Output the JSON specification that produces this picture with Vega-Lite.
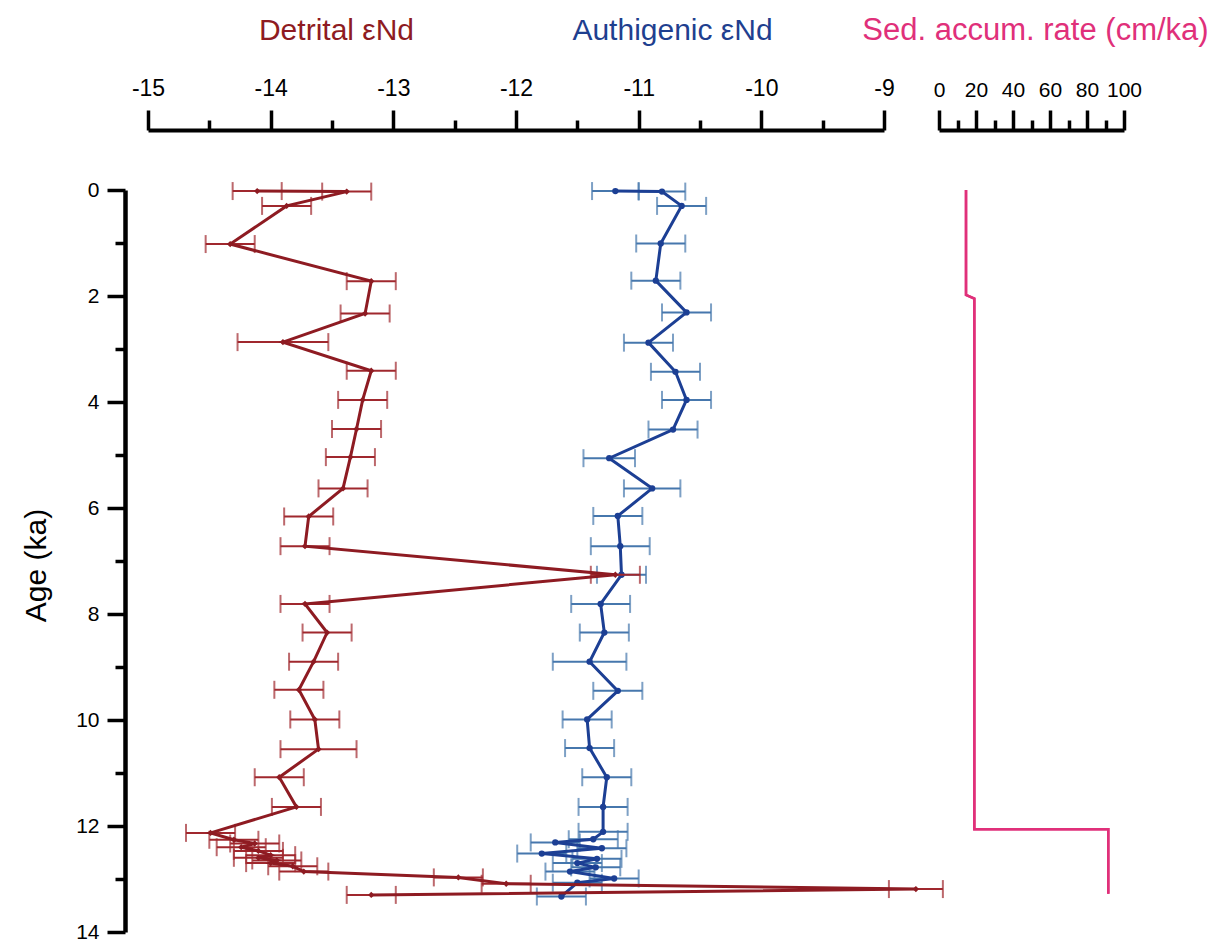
{
  "$schema": "https://vega.github.io/schema/vega-lite/v6.json",
  "width": 1000,
  "height": 742,
  "autosize": {"type": "none"},
  "padding": {"left": 125, "top": 190, "right": 99, "bottom": 13},
  "background": "white",
  "config": {"view": {"stroke": null}, "font": "Liberation Sans"},
  "datasets": {
    "det": [
      {"o":1,"age":0.02,"v":-14.11,"lo":-14.31,"hi":-13.91},
      {"o":2,"age":0.03,"v":-13.38,"lo":-13.58,"hi":-13.18},
      {"o":3,"age":0.30,"v":-13.87,"lo":-14.07,"hi":-13.67},
      {"o":4,"age":1.02,"v":-14.33,"lo":-14.53,"hi":-14.13},
      {"o":5,"age":1.72,"v":-13.18,"lo":-13.38,"hi":-12.98},
      {"o":6,"age":2.33,"v":-13.23,"lo":-13.43,"hi":-13.03},
      {"o":7,"age":2.87,"v":-13.90,"lo":-14.27,"hi":-13.53},
      {"o":8,"age":3.41,"v":-13.18,"lo":-13.38,"hi":-12.98},
      {"o":9,"age":3.96,"v":-13.25,"lo":-13.45,"hi":-13.05},
      {"o":10,"age":4.51,"v":-13.30,"lo":-13.50,"hi":-13.10},
      {"o":11,"age":5.04,"v":-13.35,"lo":-13.55,"hi":-13.15},
      {"o":12,"age":5.63,"v":-13.41,"lo":-13.61,"hi":-13.21},
      {"o":13,"age":6.16,"v":-13.69,"lo":-13.89,"hi":-13.49},
      {"o":14,"age":6.72,"v":-13.72,"lo":-13.92,"hi":-13.52},
      {"o":15,"age":7.26,"v":-11.19,"lo":-11.39,"hi":-10.99},
      {"o":16,"age":7.81,"v":-13.72,"lo":-13.92,"hi":-13.52},
      {"o":17,"age":8.35,"v":-13.54,"lo":-13.74,"hi":-13.34},
      {"o":18,"age":8.90,"v":-13.65,"lo":-13.85,"hi":-13.45},
      {"o":19,"age":9.43,"v":-13.77,"lo":-13.97,"hi":-13.57},
      {"o":20,"age":9.99,"v":-13.64,"lo":-13.84,"hi":-13.44},
      {"o":21,"age":10.55,"v":-13.61,"lo":-13.92,"hi":-13.30},
      {"o":22,"age":11.08,"v":-13.93,"lo":-14.13,"hi":-13.73},
      {"o":23,"age":11.64,"v":-13.79,"lo":-13.99,"hi":-13.59},
      {"o":24,"age":12.13,"v":-14.49,"lo":-14.69,"hi":-14.29},
      {"o":25,"age":12.26,"v":-14.30,"lo":-14.50,"hi":-14.10},
      {"o":26,"age":12.33,"v":-14.13,"lo":-14.33,"hi":-13.93},
      {"o":27,"age":12.40,"v":-14.24,"lo":-14.44,"hi":-14.04},
      {"o":28,"age":12.47,"v":-14.10,"lo":-14.30,"hi":-13.90},
      {"o":29,"age":12.55,"v":-14.00,"lo":-14.20,"hi":-13.80},
      {"o":30,"age":12.60,"v":-14.10,"lo":-14.30,"hi":-13.90},
      {"o":31,"age":12.65,"v":-13.95,"lo":-14.15,"hi":-13.75},
      {"o":32,"age":12.70,"v":-14.00,"lo":-14.20,"hi":-13.80},
      {"o":33,"age":12.76,"v":-13.82,"lo":-14.02,"hi":-13.62},
      {"o":34,"age":12.86,"v":-13.73,"lo":-13.93,"hi":-13.53},
      {"o":35,"age":12.97,"v":-12.47,"lo":-12.67,"hi":-12.27},
      {"o":36,"age":13.09,"v":-12.08,"lo":-12.28,"hi":-11.88},
      {"o":37,"age":13.19,"v":-8.74,"lo":-8.96,"hi":-8.52},
      {"o":38,"age":13.30,"v":-13.18,"lo":-13.38,"hi":-12.98}
    ],
    "auth": [
      {"o":1,"age":0.02,"v":-11.19,"lo":-11.38,"hi":-11.00},
      {"o":2,"age":0.03,"v":-10.81,"lo":-11.00,"hi":-10.62},
      {"o":3,"age":0.30,"v":-10.65,"lo":-10.85,"hi":-10.45},
      {"o":4,"age":1.01,"v":-10.82,"lo":-11.02,"hi":-10.62},
      {"o":5,"age":1.71,"v":-10.86,"lo":-11.06,"hi":-10.66},
      {"o":6,"age":2.31,"v":-10.61,"lo":-10.81,"hi":-10.41},
      {"o":7,"age":2.88,"v":-10.92,"lo":-11.12,"hi":-10.72},
      {"o":8,"age":3.43,"v":-10.70,"lo":-10.90,"hi":-10.50},
      {"o":9,"age":3.96,"v":-10.61,"lo":-10.81,"hi":-10.41},
      {"o":10,"age":4.52,"v":-10.72,"lo":-10.92,"hi":-10.52},
      {"o":11,"age":5.06,"v":-11.24,"lo":-11.45,"hi":-11.03},
      {"o":12,"age":5.63,"v":-10.89,"lo":-11.12,"hi":-10.66},
      {"o":13,"age":6.15,"v":-11.17,"lo":-11.37,"hi":-10.97},
      {"o":14,"age":6.72,"v":-11.15,"lo":-11.39,"hi":-10.91},
      {"o":15,"age":7.26,"v":-11.14,"lo":-11.34,"hi":-10.94},
      {"o":16,"age":7.81,"v":-11.31,"lo":-11.55,"hi":-11.07},
      {"o":17,"age":8.35,"v":-11.28,"lo":-11.48,"hi":-11.08},
      {"o":18,"age":8.90,"v":-11.40,"lo":-11.70,"hi":-11.10},
      {"o":19,"age":9.45,"v":-11.17,"lo":-11.37,"hi":-10.97},
      {"o":20,"age":9.99,"v":-11.42,"lo":-11.62,"hi":-11.22},
      {"o":21,"age":10.53,"v":-11.40,"lo":-11.60,"hi":-11.20},
      {"o":22,"age":11.08,"v":-11.26,"lo":-11.46,"hi":-11.06},
      {"o":23,"age":11.64,"v":-11.29,"lo":-11.49,"hi":-11.09},
      {"o":24,"age":12.11,"v":-11.29,"lo":-11.49,"hi":-11.09},
      {"o":25,"age":12.25,"v":-11.37,"lo":-11.57,"hi":-11.17},
      {"o":26,"age":12.31,"v":-11.68,"lo":-11.88,"hi":-11.48},
      {"o":27,"age":12.42,"v":-11.30,"lo":-11.50,"hi":-11.10},
      {"o":28,"age":12.52,"v":-11.79,"lo":-11.99,"hi":-11.59},
      {"o":29,"age":12.62,"v":-11.34,"lo":-11.54,"hi":-11.14},
      {"o":30,"age":12.70,"v":-11.50,"lo":-11.70,"hi":-11.30},
      {"o":31,"age":12.78,"v":-11.35,"lo":-11.55,"hi":-11.15},
      {"o":32,"age":12.86,"v":-11.56,"lo":-11.76,"hi":-11.36},
      {"o":33,"age":12.99,"v":-11.20,"lo":-11.40,"hi":-11.00},
      {"o":34,"age":13.07,"v":-11.50,"lo":-11.70,"hi":-11.30},
      {"o":35,"age":13.33,"v":-11.63,"lo":-11.83,"hi":-11.43}
    ],
    "sed": [
      {"o":1,"age":0.0,"rate":14.6},
      {"o":2,"age":1.98,"rate":14.6},
      {"o":3,"age":2.05,"rate":19.1},
      {"o":4,"age":12.06,"rate":19.1},
      {"o":5,"age":12.06,"rate":91.5},
      {"o":6,"age":13.28,"rate":91.5}
    ]
  },
  "resolve": {"scale": {"x": "independent", "y": "independent"}, "axis": {"x": "independent", "y": "independent"}},
  "layer": [
    {
      "data": {"name": "auth"},
      "encoding": {
        "y": {"field": "age", "type": "quantitative", "scale": {"domain": [0, 14], "reverse": true, "nice": false, "zero": false},
          "axis": {"orient": "left", "values": [1,3,5,7,9,11,13], "tickSize": 10, "tickWidth": 3.5, "tickColor": "#000", "domain": false, "labels": false, "grid": false, "title": null}}
      },
      "layer": [
        {
          "mark": {"type": "rule", "color": "#4677ad", "strokeWidth": 2},
          "encoding": {
            "x": {"field": "lo", "type": "quantitative", "scale": {"domain": [-15, -9], "range": [23, 759], "nice": false, "zero": false},
              "axis": {"orient": "top", "offset": 60, "values": [-14.5,-13.5,-12.5,-11.5,-10.5,-9.5], "tickSize": 10, "tickWidth": 3.5, "tickColor": "#000", "domain": false, "labels": false, "grid": false, "title": "Authigenic εNd", "titleFontSize": 30, "titleFontWeight": "normal", "titleColor": "#1f3f8f", "titleX": 547, "titleY": -100, "titleAlign": "center", "titleBaseline": "middle"}},
            "x2": {"field": "hi"}
          }
        },
        {
          "transform": [{"fold": ["lo", "hi"], "as": ["k", "xv"]}],
          "mark": {"type": "tick", "orient": "vertical", "color": "#4677ad", "size": 18, "thickness": 2},
          "encoding": {
            "x": {"field": "xv", "type": "quantitative", "scale": {"domain": [-15, -9], "range": [23, 759], "nice": false, "zero": false},
              "axis": {"orient": "top", "offset": 60, "values": [-14.5,-13.5,-12.5,-11.5,-10.5,-9.5], "tickSize": 10, "tickWidth": 3.5, "tickColor": "#000", "domain": false, "labels": false, "grid": false, "title": "Authigenic εNd", "titleFontSize": 30, "titleFontWeight": "normal", "titleColor": "#1f3f8f", "titleX": 547, "titleY": -100, "titleAlign": "center", "titleBaseline": "middle"}}
          }
        },
        {
          "mark": {"type": "line", "color": "#1c3f94", "strokeWidth": 3, "point": {"filled": true, "size": 40, "color": "#1c3f94"}},
          "encoding": {
            "x": {"field": "v", "type": "quantitative", "scale": {"domain": [-15, -9], "range": [23, 759], "nice": false, "zero": false},
              "axis": {"orient": "top", "offset": 60, "values": [-14.5,-13.5,-12.5,-11.5,-10.5,-9.5], "tickSize": 10, "tickWidth": 3.5, "tickColor": "#000", "domain": false, "labels": false, "grid": false, "title": "Authigenic εNd", "titleFontSize": 30, "titleFontWeight": "normal", "titleColor": "#1f3f8f", "titleX": 547, "titleY": -100, "titleAlign": "center", "titleBaseline": "middle"}},
            "order": {"field": "o", "type": "quantitative"}
          }
        }
      ]
    },
    {
      "data": {"name": "det"},
      "encoding": {
        "y": {"field": "age", "type": "quantitative", "scale": {"domain": [0, 14], "reverse": true, "nice": false, "zero": false},
          "axis": {"orient": "left", "values": [0,2,4,6,8,10,12,14], "tickSize": 18, "tickWidth": 3.5, "tickColor": "#000", "domainWidth": 4.5, "domainColor": "#000", "labelFontSize": 21, "labelColor": "#000", "labelPadding": 8, "labelFlush": false, "labelOverlap": false, "grid": false, "title": "Age (ka)", "titleFontSize": 30, "titleFontWeight": "normal", "titleColor": "#000", "titleX": -89, "titleY": 375, "titleAngle": -90, "titleAlign": "center", "titleBaseline": "middle"}}
      },
      "layer": [
        {
          "mark": {"type": "rule", "color": "#a0282e", "strokeWidth": 2},
          "encoding": {
            "x": {"field": "lo", "type": "quantitative", "scale": {"domain": [-15, -9], "range": [23, 759], "nice": false, "zero": false},
              "axis": {"orient": "top", "offset": 60, "values": [-15,-14,-13,-12,-11,-10,-9], "tickSize": 20, "tickWidth": 3.5, "tickColor": "#000", "domainWidth": 4, "domainColor": "#000", "labelFontSize": 23, "labelColor": "#000", "labelPadding": 10, "labelFlush": false, "labelOverlap": false, "labelExpr": "'' + datum.value", "grid": false, "title": "Detrital εNd", "titleFontSize": 30, "titleFontWeight": "normal", "titleColor": "#8e1b22", "titleX": 211, "titleY": -100, "titleAlign": "center", "titleBaseline": "middle"}},
            "x2": {"field": "hi"}
          }
        },
        {
          "transform": [{"fold": ["lo", "hi"], "as": ["k", "xv"]}],
          "mark": {"type": "tick", "orient": "vertical", "color": "#a0282e", "size": 18, "thickness": 2},
          "encoding": {
            "x": {"field": "xv", "type": "quantitative", "scale": {"domain": [-15, -9], "range": [23, 759], "nice": false, "zero": false},
              "axis": {"orient": "top", "offset": 60, "values": [-15,-14,-13,-12,-11,-10,-9], "tickSize": 20, "tickWidth": 3.5, "tickColor": "#000", "domainWidth": 4, "domainColor": "#000", "labelFontSize": 23, "labelColor": "#000", "labelPadding": 10, "labelFlush": false, "labelOverlap": false, "labelExpr": "'' + datum.value", "grid": false, "title": "Detrital εNd", "titleFontSize": 30, "titleFontWeight": "normal", "titleColor": "#8e1b22", "titleX": 211, "titleY": -100, "titleAlign": "center", "titleBaseline": "middle"}}
          }
        },
        {
          "mark": {"type": "line", "color": "#8e1b22", "strokeWidth": 3, "point": {"filled": true, "size": 40, "shape": "diamond", "color": "#8e1b22"}},
          "encoding": {
            "x": {"field": "v", "type": "quantitative", "scale": {"domain": [-15, -9], "range": [23, 759], "nice": false, "zero": false},
              "axis": {"orient": "top", "offset": 60, "values": [-15,-14,-13,-12,-11,-10,-9], "tickSize": 20, "tickWidth": 3.5, "tickColor": "#000", "domainWidth": 4, "domainColor": "#000", "labelFontSize": 23, "labelColor": "#000", "labelPadding": 10, "labelFlush": false, "labelOverlap": false, "labelExpr": "'' + datum.value", "grid": false, "title": "Detrital εNd", "titleFontSize": 30, "titleFontWeight": "normal", "titleColor": "#8e1b22", "titleX": 211, "titleY": -100, "titleAlign": "center", "titleBaseline": "middle"}},
            "order": {"field": "o", "type": "quantitative"}
          }
        }
      ]
    },
    {
      "data": {"name": "sed"},
      "mark": {"type": "line", "color": "#e0307a", "strokeWidth": 2.5},
      "encoding": {
        "y": {"field": "age", "type": "quantitative", "scale": {"domain": [0, 14], "reverse": true, "nice": false, "zero": false}, "axis": null},
        "x": {"field": "rate", "type": "quantitative", "scale": {"domain": [0, 100], "range": [814, 999], "nice": false, "zero": false},
          "axis": {"orient": "top", "offset": 60, "values": [0,20,40,60,80,100], "tickSize": 20, "tickWidth": 3.5, "tickColor": "#000", "domainWidth": 4, "domainColor": "#000", "labelFontSize": 21, "labelColor": "#000", "labelPadding": 10, "labelFlush": false, "labelOverlap": false, "grid": false, "title": "Sed. accum. rate (cm/ka)", "titleFontSize": 31, "titleFontWeight": "normal", "titleColor": "#e0307a", "titleX": 910, "titleY": -100, "titleAlign": "center", "titleBaseline": "middle"}},
        "order": {"field": "o", "type": "quantitative"}
      }
    },
    {
      "data": {"name": "sed"},
      "mark": {"type": "line", "color": "#e0307a", "strokeWidth": 2.5},
      "encoding": {
        "y": {"field": "age", "type": "quantitative", "scale": {"domain": [0, 14], "reverse": true, "nice": false, "zero": false}, "axis": null},
        "x": {"field": "rate", "type": "quantitative", "scale": {"domain": [0, 100], "range": [814, 999], "nice": false, "zero": false},
          "axis": {"orient": "top", "offset": 60, "values": [10,30,50,70,90], "tickSize": 10, "tickWidth": 3.5, "tickColor": "#000", "domain": false, "labels": false, "grid": false, "title": null}},
        "order": {"field": "o", "type": "quantitative"}
      }
    }
  ]
}
